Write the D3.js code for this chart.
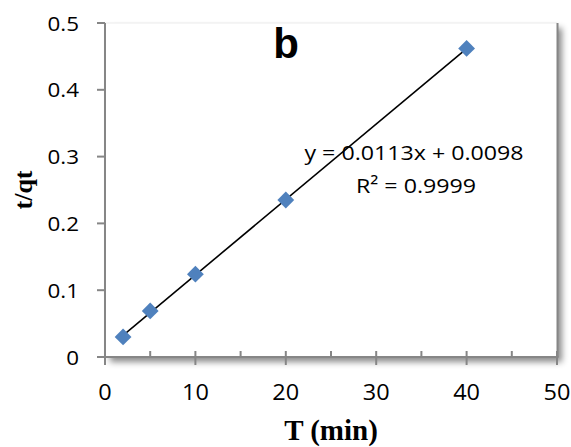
<!DOCTYPE html>
<html><head><meta charset="utf-8">
<script src="https://cdn.jsdelivr.net/npm/d3@7"></script>
<style>body{margin:0;background:#fff}svg{display:block}</style>
</head><body>
<svg id="chart" width="571" height="447"></svg>
<script>
// ---- data ----
const timeMin = [2, 5, 10, 20, 40];
const tOverQt = [0.030, 0.069, 0.124, 0.235, 0.462];
const fitSlope = 0.0113;
const fitIntercept = 0.0098;
const xTicks = [0, 10, 20, 30, 40, 50];
const xMinorTicks = [5, 15, 25, 35, 45];
const yTicks = [0, 0.1, 0.2, 0.3, 0.4, 0.5];
const equationLabel = "y = 0.0113x + 0.0098";
const r2Label = "R² = 0.9999";
const panelLabel = "b";
const xTitle = "T (min)";
const yTitle = "t/qt";

// ---- layout ----
const svg = d3.select("#chart");
const L = 105, R = 557, T = 23, B = 357;
const x = d3.scaleLinear().domain([0, 50]).range([L, R]);
const y = d3.scaleLinear().domain([0, 0.5]).range([B, T]);
const axisColor = "#868686";
const sansFont = "'Open Sans', sans-serif";
const sx = 1.12;

const defs = svg.append("defs");
const f = defs.append("filter").attr("id", "shadow").attr("x", "-10%").attr("y", "-10%").attr("width", "130%").attr("height", "130%");
f.append("feDropShadow").attr("dx", 5).attr("dy", 5).attr("stdDeviation", 3).attr("flood-color", "#000").attr("flood-opacity", 0.45);

// plot area with shadow
svg.append("rect").attr("x", L).attr("y", T).attr("width", R - L).attr("height", B - T)
  .attr("fill", "#fff").attr("filter", "url(#shadow)");
svg.append("line").attr("x1", L).attr("x2", R).attr("y1", T).attr("y2", T)
  .attr("stroke", "#ececec").attr("stroke-width", 1);
svg.append("line").attr("x1", R + 0.5).attr("x2", R + 0.5).attr("y1", T).attr("y2", B)
  .attr("stroke", axisColor).attr("stroke-width", 2);

// x axis
const xAxis = svg.append("g").attr("transform", `translate(0,${B})`);
xAxis.append("line").attr("x1", L).attr("x2", R + 1.5).attr("stroke", axisColor).attr("stroke-width", 2);
xAxis.selectAll(".maj").data(xTicks).join("line").attr("class", "maj")
  .attr("x1", d => x(d)).attr("x2", d => x(d)).attr("y1", -6).attr("y2", 8)
  .attr("stroke", axisColor).attr("stroke-width", 2);
xAxis.selectAll(".min").data(xMinorTicks).join("line").attr("class", "min")
  .attr("x1", d => x(d)).attr("x2", d => x(d)).attr("y1", -6).attr("y2", 0)
  .attr("stroke", axisColor).attr("stroke-width", 2);
xAxis.selectAll(".lbl").data(xTicks).join("text").attr("class", "lbl")
  .attr("transform", d => `translate(${x(d)},43) scale(${sx},1)`)
  .attr("text-anchor", "middle").attr("font-family", sansFont).attr("font-size", 21)
  .attr("fill", "#000").text(d => d3.format("d")(d));

// y axis
const yAxis = svg.append("g").attr("transform", `translate(${L},0)`);
yAxis.append("line").attr("y1", T).attr("y2", B + 8).attr("stroke", axisColor).attr("stroke-width", 2);
yAxis.selectAll(".maj").data(yTicks).join("line").attr("class", "maj")
  .attr("x1", -8).attr("x2", 0).attr("y1", d => y(d)).attr("y2", d => y(d))
  .attr("stroke", axisColor).attr("stroke-width", 2);
yAxis.selectAll(".lbl").data(yTicks).join("text").attr("class", "lbl")
  .attr("transform", d => `translate(-26,${y(d) + 7.5}) scale(${sx},1)`)
  .attr("text-anchor", "end").attr("font-family", sansFont).attr("font-size", 20)
  .attr("fill", "#000").text(d => d === 0 ? "0" : d3.format(".1f")(d));

// trend line
const fitX = d3.extent(timeMin);
svg.append("line")
  .attr("x1", x(fitX[0])).attr("y1", y(fitSlope * fitX[0] + fitIntercept))
  .attr("x2", x(fitX[1])).attr("y2", y(fitSlope * fitX[1] + fitIntercept))
  .attr("stroke", "#000").attr("stroke-width", 1.6);

// markers
const pts = timeMin.map((t, i) => [t, tOverQt[i]]);
svg.selectAll(".pt").data(pts).join("path").attr("class", "pt")
  .attr("d", d3.symbol().type(d3.symbolDiamond2).size(180))
  .attr("transform", d => `translate(${x(d[0])},${y(d[1])})`)
  .attr("fill", "#4F81BD");

// equation text
svg.append("text").attr("transform", `translate(414,160) scale(1.16,1)`)
  .attr("text-anchor", "middle").attr("font-family", sansFont).attr("font-size", 20)
  .attr("fill", "#000").text(equationLabel);
svg.append("text").attr("transform", `translate(416,193) scale(1.16,1)`)
  .attr("text-anchor", "middle").attr("font-family", sansFont).attr("font-size", 20)
  .attr("fill", "#000").text(r2Label);

// panel label
svg.append("text").attr("x", 286).attr("y", 58).attr("text-anchor", "middle")
  .attr("font-family", "'Liberation Sans', Arial, sans-serif").attr("font-weight", "bold")
  .attr("font-size", 42).attr("fill", "#000").text(panelLabel);

// axis titles
svg.append("text").attr("transform", `translate(331,440)`)
  .attr("text-anchor", "middle").attr("font-family", "'Liberation Serif', 'Times New Roman', serif")
  .attr("font-weight", "bold").attr("font-size", 29).attr("fill", "#000").text(xTitle);
svg.append("text").attr("transform", `translate(32,190) rotate(-90)`)
  .attr("text-anchor", "middle").attr("font-family", "'Liberation Serif', 'Times New Roman', serif")
  .attr("font-weight", "bold").attr("font-size", 26).attr("fill", "#000").text(yTitle);
</script>
</body></html>
